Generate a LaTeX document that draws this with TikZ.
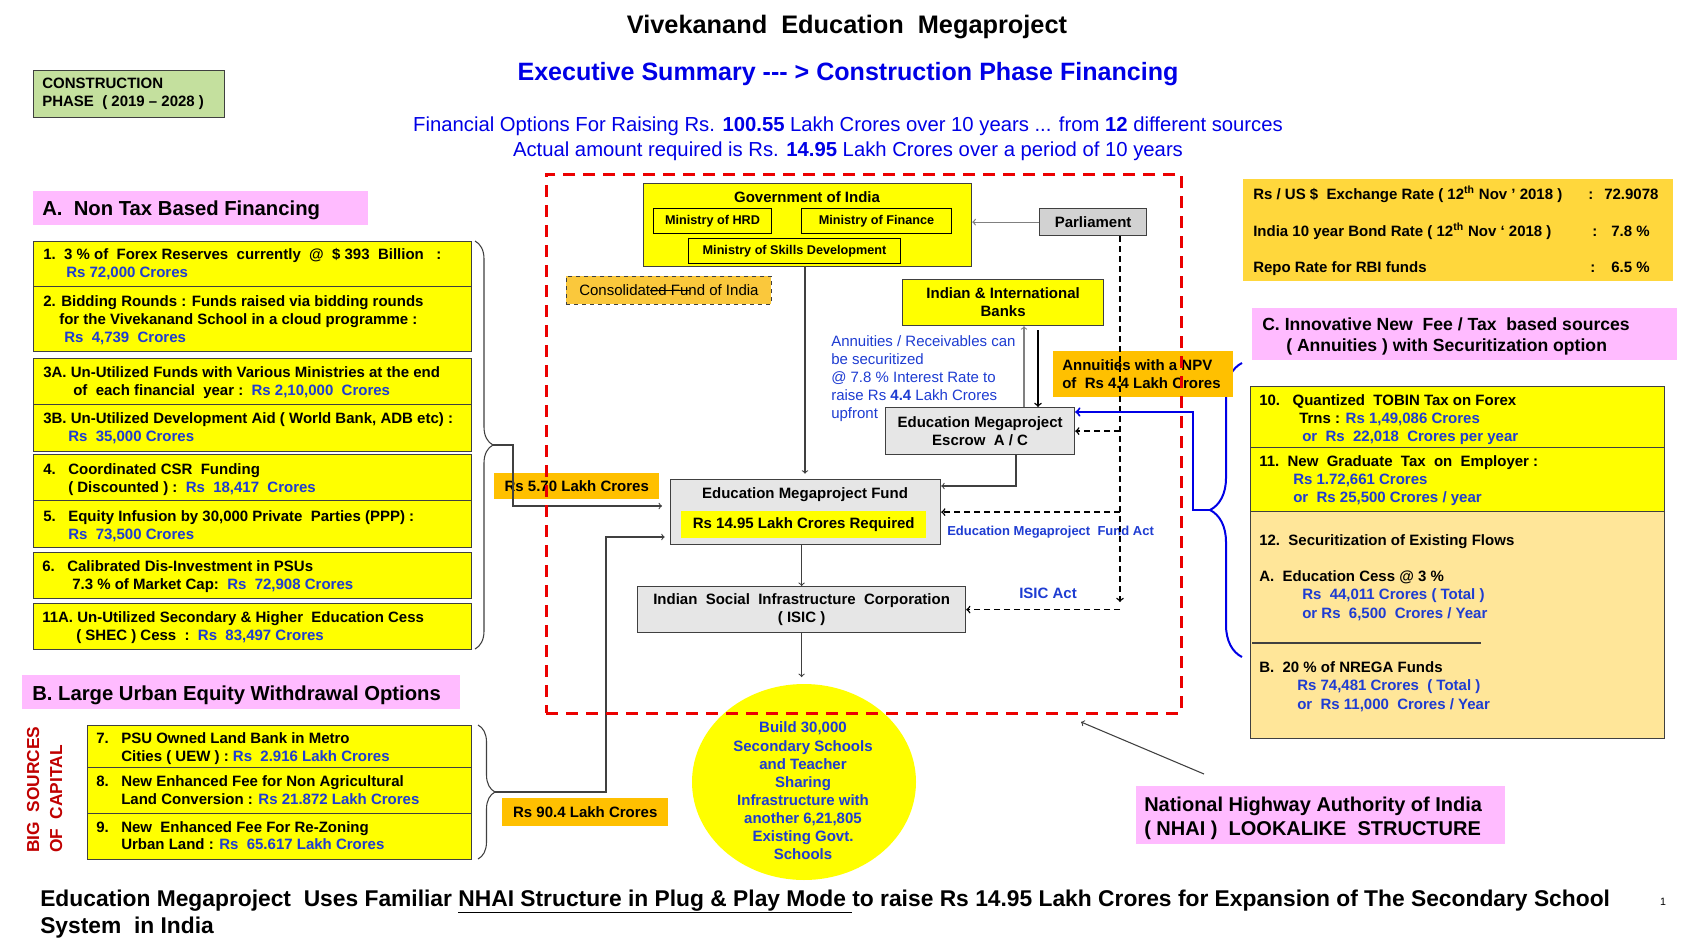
\documentclass[tikz,border=0pt]{standalone}
\usepackage{fontspec}
\setmainfont{Liberation Sans}
\usetikzlibrary{decorations.pathreplacing,shapes.geometric}
\definecolor{yel}{RGB}{255,255,0}
\definecolor{org}{RGB}{255,192,0}
\definecolor{goldc}{RGB}{255,215,60}
\definecolor{pnk}{RGB}{255,187,255}
\definecolor{tanc}{RGB}{255,230,153}
\definecolor{grn}{RGB}{196,224,158}
\definecolor{gry}{RGB}{210,210,210}
\definecolor{lgry}{RGB}{230,230,230}
\definecolor{tblue}{RGB}{0,0,230}
\definecolor{ablue}{RGB}{30,60,210}
\definecolor{rdash}{RGB}{235,0,0}
\definecolor{dred}{RGB}{192,0,0}
\definecolor{cfund}{RGB}{250,200,60}
\definecolor{bord}{RGB}{64,64,64}
\newcommand{\bl}[1]{\textcolor{ablue}{#1}}
\newcommand{\fsz}{\fontsize{11.25}{13.5}\selectfont}
\newcommand{\mkbox}[7]{\node[inner sep=0pt, #1, anchor=north west, minimum width={(#4-#2)*0.75pt}, minimum height={(#5-#3)*0.75pt}] (#6) at (#2,#3) {#7};}
\begin{document}
\begin{tikzpicture}[x=0.75pt,y=-0.75pt,
  ybox/.style={draw=bord, line width=0.9pt, fill=yel},
  bx/.style={font=\bfseries\fsz},
  tx/.style={inner sep=0pt, anchor=base west, font=\bfseries\fsz},
  txb/.style={tx, text=ablue},
  txc/.style={tx, anchor=base},
  arr/.style={->, draw=bord, line width=0.8pt},
  dsh/.style={->, draw=black, line width=1.1pt, dash pattern=on 4.5pt off 3pt},
  hdr/.style={tx, font=\bfseries\fontsize{15.2}{17}\selectfont},
  mbox/.style={draw=black, line width=0.8pt, fill=yel, font=\bfseries\fontsize{9.5}{11}\selectfont}]
\fill[white] (0,0) rectangle (1682,939);
\useasboundingbox (0,0) rectangle (1682,939);

% ---- titles
\node[txc, font=\bfseries\fontsize{19}{22}\selectfont] (title) at (847,33) {Vivekanand\ \ Education\ \ Megaproject};
\node[txc, font=\bfseries\fontsize{18.8}{22}\selectfont, text=tblue] (sub) at (848,80) {Executive Summary -{}-{}- > Construction Phase Financing};
\node[txc, font=\fontsize{15.2}{18}\selectfont, text=tblue] (fin1) at (848,131) {Financial Options For Raising Rs. \textbf{100.55} Lakh Crores over 10 years ... from \textbf{12} different sources};
\node[txc, font=\fontsize{15.2}{18}\selectfont, text=tblue] (fin2) at (848,156) {Actual amount required is Rs. \textbf{14.95} Lakh Crores over a period of 10 years};

\mkbox{draw=bord, line width=0.9pt, fill=grn}{33}{70}{224}{117}{cph}{}
\node[tx] (cph1) at (42,88) {CONSTRUCTION};
\node[tx] (cph2) at (42,106) {PHASE\ \ ( 2019 – 2028 )};

% ---- group A
\mkbox{fill=pnk}{33}{191}{368}{225}{hA}{}
\node[hdr] (hAt) at (42,215) {A.\ \ Non Tax Based Financing};

\mkbox{ybox}{33}{241}{471}{286}{b1}{}
\mkbox{ybox}{33}{286}{471}{351}{b2}{}
\mkbox{ybox}{33}{358}{471}{404}{b3a}{}
\mkbox{ybox}{33}{404}{471}{451}{b3b}{}
\mkbox{ybox}{33}{454}{471}{500}{b4}{}
\mkbox{ybox}{33}{500}{471}{547}{b5}{}
\mkbox{ybox}{33}{552}{471}{598}{b6}{}
\mkbox{ybox}{33}{603}{471}{649}{b11a}{}

\node[tx] (b1l1) at (43,259) {1.\ \ 3 \% of\ \ Forex Reserves\ \ currently\ \ @\ \ \$ 393\ \ Billion\ \ \ :};
\node[txb] (b1l2) at (66,277) {Rs 72,000 Crores};
\node[tx] (b2l1) at (43,306) {2. Bidding Rounds : Funds raised via bidding rounds};
\node[tx] (b2l2) at (59,324) {for the Vivekanand School in a cloud programme :};
\node[txb] (b2l3) at (64,342) {Rs\ \ 4,739\ \ Crores};
\node[tx] (b3al1) at (43,377) {3A. Un-Utilized Funds with Various Ministries at the end};
\node[tx] (b3al2) at (73,395) {of\ \ each financial\ \ year :\ \ \bl{Rs 2,10,000\ \ Crores}};
\node[tx] (b3bl1) at (43,423) {3B. Un-Utilized Development Aid ( World Bank, ADB etc) :};
\node[txb] (b3bl2) at (68,441) {Rs\ \ 35,000 Crores};
\node[tx] (b4n) at (43,474) {4.};
\node[tx] (b4l1) at (68,474) {Coordinated CSR\ \ Funding};
\node[tx] (b4l2) at (68,492) {( Discounted ) :\ \ \bl{Rs\ \ 18,417\ \ Crores}};
\node[tx] (b5n) at (43,521) {5.};
\node[tx] (b5l1) at (68,521) {Equity Infusion by 30,000 Private\ \ Parties (PPP) :};
\node[txb] (b5l2) at (68,539) {Rs\ \ 73,500 Crores};
\node[tx] (b6n) at (42,571) {6.};
\node[tx] (b6l1) at (67,571) {Calibrated Dis-Investment in PSUs};
\node[tx] (b6l2) at (72,589) {7.3 \% of Market Cap:\ \ \bl{Rs\ \ 72,908 Crores}};
\node[tx] (b11l1) at (42,622) {11A. Un-Utilized Secondary \& Higher\ \ Education Cess};
\node[tx] (b11l2) at (76,640) {( SHEC ) Cess\ \ :\ \ \bl{Rs\ \ 83,497 Crores}};

\draw[decorate, decoration={brace, amplitude=13.5pt}, draw=bord, line width=0.8pt] (475,241) -- (475,649);
\coordinate (tipA) at (493,445);

\mkbox{fill=org, bx}{494}{473}{659}{499}{r570}{Rs 5.70 Lakh Crores}

% ---- group B
\mkbox{fill=pnk}{22}{675}{460}{709}{hB}{}
\node[hdr] (hBt) at (32,700) {B. Large Urban Equity Withdrawal Options};
\node[tx, rotate=90, text=dred, font=\bfseries\fontsize{13}{15}\selectfont] (big1) at (39,853) {BIG\ \ SOURCES};
\node[tx, rotate=90, text=dred, font=\bfseries\fontsize{13}{15}\selectfont] (big2) at (62,853) {OF\ \ CAPITAL};

\mkbox{ybox}{87}{725}{471}{767}{b7}{}
\mkbox{ybox}{87}{767}{471}{813}{b8}{}
\mkbox{ybox}{87}{813}{471}{859}{b9}{}
\node[tx] (b7n) at (96,743) {7.};
\node[tx] (b7l1) at (121,743) {PSU Owned Land Bank in Metro};
\node[tx] (b7l2) at (121,761) {Cities ( UEW ) : \bl{Rs\ \ 2.916 Lakh Crores}};
\node[tx] (b8n) at (96,786) {8.};
\node[tx] (b8l1) at (121,786) {New Enhanced Fee for Non Agricultural};
\node[tx] (b8l2) at (121,804) {Land Conversion : \bl{Rs 21.872 Lakh Crores}};
\node[tx] (b9n) at (96,832) {9.};
\node[tx] (b9l1) at (121,832) {New\ \ Enhanced Fee For Re-Zoning};
\node[tx] (b9l2) at (121,849) {Urban Land : \bl{Rs\ \ 65.617 Lakh Crores}};

\draw[decorate, decoration={brace, amplitude=12.75pt}, draw=bord, line width=0.8pt] (478,725) -- (478,859);
\coordinate (tipB) at (495,792);
\mkbox{fill=org, bx}{502}{798}{668}{826}{r904}{Rs 90.4 Lakh Crores}

% ---- centre
\mkbox{ybox}{643}{183}{971}{266}{govt}{}
\node[txc] (govtt) at (807,202) {Government of India};
\mkbox{mbox}{653}{208}{771}{233}{hrd}{Ministry of HRD}
\mkbox{mbox}{801}{208}{951}{233}{mfin}{Ministry of Finance}
\mkbox{mbox}{688}{238}{900}{263}{skill}{Ministry of Skills Development}

\mkbox{draw=bord, line width=0.9pt, fill=gry, bx}{1039}{208}{1146}{235}{parl}{Parliament}
\mkbox{draw=bord, line width=0.6pt, dashed, fill=cfund, font=\fsz}{566}{276}{771}{304}{cfund}{Consolidated Fund of India}
\draw[black, line width=0.6pt] (650,290) -- (690,290);

\mkbox{ybox, bx, align=center}{902}{279}{1103}{325}{banks}{Indian \& International\\Banks}

\node[tx, font=\fsz, text=ablue] (an1) at (831,346) {Annuities / Receivables can};
\node[tx, font=\fsz, text=ablue] (an2) at (831,364) {be securitized};
\node[tx, font=\fsz, text=ablue] (an3) at (831,382) {@ 7.8 \% Interest Rate to};
\node[tx, font=\fsz, text=ablue] (an4) at (831,400) {raise Rs \textbf{4.4} Lakh Crores};
\node[tx, font=\fsz, text=ablue] (an5) at (831,418) {upfront};

\mkbox{draw=bord, line width=0.9pt, fill=lgry, bx, align=center}{885}{407}{1074}{454}{escrow}{Education Megaproject\\Escrow\ \ A / C}

\mkbox{draw=bord, line width=0.9pt, fill=lgry}{670}{479}{940}{544}{emf}{}
\node[txc] (emft) at (805,498) {Education Megaproject Fund};
\mkbox{fill=yel, bx}{681}{511}{926}{538}{emfreq}{Rs 14.95 Lakh Crores Required}
\node[txb, font=\bfseries\fontsize{9.75}{12}\selectfont] (emfact) at (947,535) {Education Megaproject\ \ Fund Act};

\mkbox{draw=bord, line width=0.9pt, fill=lgry, bx, align=center}{637}{586}{965}{632}{isic}{Indian\ \ Social\ \ Infrastructure\ \ Corporation\\( ISIC )}
\node[txb] (isicact) at (1019,598) {ISIC Act};

\node[ellipse, fill=yel, inner sep=0pt, minimum width={224*0.75pt}, minimum height={196*0.75pt}] (ell) at (804,782) {};
\node[inner sep=0pt, align=center, text=ablue, font=\bfseries\fontsize{11.25}{13.6}\selectfont] (ellt) at (803,791) {Build 30,000\\Secondary Schools\\and Teacher\\Sharing\\Infrastructure with\\another 6,21,805\\Existing Govt.\\Schools};

% ---- right side
\mkbox{fill=goldc}{1243}{179}{1673}{281}{xr}{}
\node[tx] (xr1) at (1253,199) {Rs / US \$\ \ Exchange Rate ( 12\textsuperscript{th} Nov ' 2018 )};
\node[tx] (xr1c) at (1588,199) {:};
\node[tx] (xr1v) at (1604,199) {72.9078};
\node[tx] (xr2) at (1253,236) {India 10 year Bond Rate ( 12\textsuperscript{th} Nov ‘ 2018 )};
\node[tx] (xr2c) at (1592,236) {:};
\node[tx] (xr2v) at (1611,236) {7.8 \%};
\node[tx] (xr3) at (1253,272) {Repo Rate for RBI funds};
\node[tx] (xr3c) at (1590,272) {:};
\node[tx] (xr3v) at (1611,272) {6.5 \%};

\mkbox{fill=pnk}{1252}{308}{1677}{360}{hC}{}
\node[tx, font=\bfseries\fontsize{13.2}{16}\selectfont] (hC1) at (1262,330) {C. Innovative New\ \ Fee / Tax\ \ based sources};
\node[tx, font=\bfseries\fontsize{13.2}{16}\selectfont] (hC2) at (1286,351) {( Annuities ) with Securitization option};

\mkbox{ybox}{1250}{386}{1664}{447}{b10}{}
\mkbox{ybox}{1250}{447}{1664}{511}{b11}{}
\mkbox{draw=bord, line width=0.9pt, fill=tanc}{1250}{511}{1664}{738}{b12}{}
\node[tx] (b10l1) at (1259,405) {10.\ \ \ Quantized\ \ TOBIN Tax on Forex};
\node[tx] (b10l2) at (1299,423) {Trns : \bl{Rs 1,49,086 Crores}};
\node[txb] (b10l3) at (1302,441) {or\ \ Rs\ \ 22,018\ \ Crores per year};
\node[tx] (b11l1) at (1259,466) {11.\ \ New\ \ Graduate\ \ Tax\ \ on\ \ Employer :};
\node[txb] (b11l2) at (1293,484) {Rs 1.72,661 Crores};
\node[txb] (b11l3) at (1293,502) {or\ \ Rs 25,500 Crores / year};
\node[tx] (b12l1) at (1259,545) {12.\ \ Securitization of Existing Flows};
\node[tx] (b12l2) at (1259,581) {A.\ \ Education Cess @ 3 \%};
\node[txb] (b12l3) at (1302,599) {Rs\ \ 44,011 Crores ( Total )};
\node[txb] (b12l4) at (1302,618) {or Rs\ \ 6,500\ \ Crores / Year};
\draw[draw=bord, line width=0.8pt] (1252,643) -- (1481,643);
\node[tx] (b12l5) at (1259,672) {B.\ \ 20 \% of NREGA Funds};
\node[txb] (b12l6) at (1297,690) {Rs 74,481 Crores\ \ ( Total )};
\node[txb] (b12l7) at (1297,709) {or\ \ Rs 11,000\ \ Crores / Year};

\draw[decorate, decoration={brace, amplitude=24pt}, draw=tblue, line width=1.5pt] (1242,657) -- (1242,363);
\coordinate (tipC) at (1210,510);

\mkbox{fill=org}{1053}{351}{1233}{397}{annu}{}
\node[tx] (annu1) at (1062,370) {Annuities with a NPV};
\node[tx] (annu2) at (1062,388) {of\ \ Rs 4.4 Lakh Crores};

\mkbox{fill=pnk}{1136}{786}{1505}{844}{nhai}{}
\node[tx, font=\bfseries\fontsize{15}{18}\selectfont] (nhai1) at (1144,811) {National Highway Authority of India};
\node[tx, font=\bfseries\fontsize{15}{18}\selectfont] (nhai2) at (1144,835) {( NHAI )\ \ LOOKALIKE\ \ STRUCTURE};

% ---- connectors
\coordinate (xa) at (1024,0);
\coordinate (xb) at (1038,0);
\coordinate (xc) at (1016,486);
\coordinate (pd) at (1120,602);
\coordinate (ca1) at (513,445);
\coordinate (ca2) at (513,506);
\coordinate (cb1) at (606,792);
\coordinate (cb2) at (606,537);
\coordinate (cc1) at (1193,510);
\coordinate (cc2) at (1193,412);
\coordinate (nt) at (1081,722);

\draw[->, draw=gray, line width=0.9pt] (parl.west) -- (parl.west -| govt.east);
\draw[arr, shorten >=4pt] (govt.south -| emft) -- (emft |- emf.north);
\draw[->, draw=gray, line width=0.8pt] (escrow.north -| xa) -- (banks.south -| xa);
\draw[->, draw=black, line width=1.1pt, shorten <=3pt] (banks.south -| xb) -- (escrow.north -| xb);
\draw[arr] (escrow.south -| xc) |- (emf.east |- xc);
\draw[dsh] (parl.south -| pd) -- (pd);
\draw[dsh] (escrow.east -| pd) -- (escrow.east);
\draw[dsh] (emf.east -| pd) -- (emf.east);
\draw[dsh] (isic.east -| pd) -- (isic.east);
\draw[arr] (emf.south -| isic) -- (isic.north);
\draw[arr, shorten >=5pt] (isic.south) -- (isic.south |- ell.north);
\draw[arr, shorten >=6pt] (tipA) -- (ca1) -- (ca2) -- (ca2 -| emf.west);
\draw[arr, shorten >=4pt] (tipB) -- (cb1) -- (cb2) -- (cb2 -| emf.west);
\draw[->, draw=tblue, line width=1.5pt] (tipC) -- (cc1) -- (cc2) -- (cc2 -| escrow.east);
\draw[arr] (nhai.north west) ++(68,-12) -- (nt);

% ---- frame
\mkbox{draw=rdash, line width=2.2pt, dash pattern=on 9pt off 6pt}{545}{173}{1180}{712}{frame}{}

% ---- bottom
\node[tx, font=\bfseries\fontsize{17.1}{20}\selectfont] (bot1) at (40,906) {Education Megaproject\ \ Uses Familiar \underline{NHAI Structure in Plug \& Play Mode }to raise Rs 14.95 Lakh Crores for Expansion of The Secondary School};
\node[tx, font=\bfseries\fontsize{17.1}{20}\selectfont] (bot2) at (40,933) {System\ \ in India};
\node[txc, font=\fontsize{8}{9}\selectfont] (pg) at (1663,905) {1};
\end{tikzpicture}
\end{document}
